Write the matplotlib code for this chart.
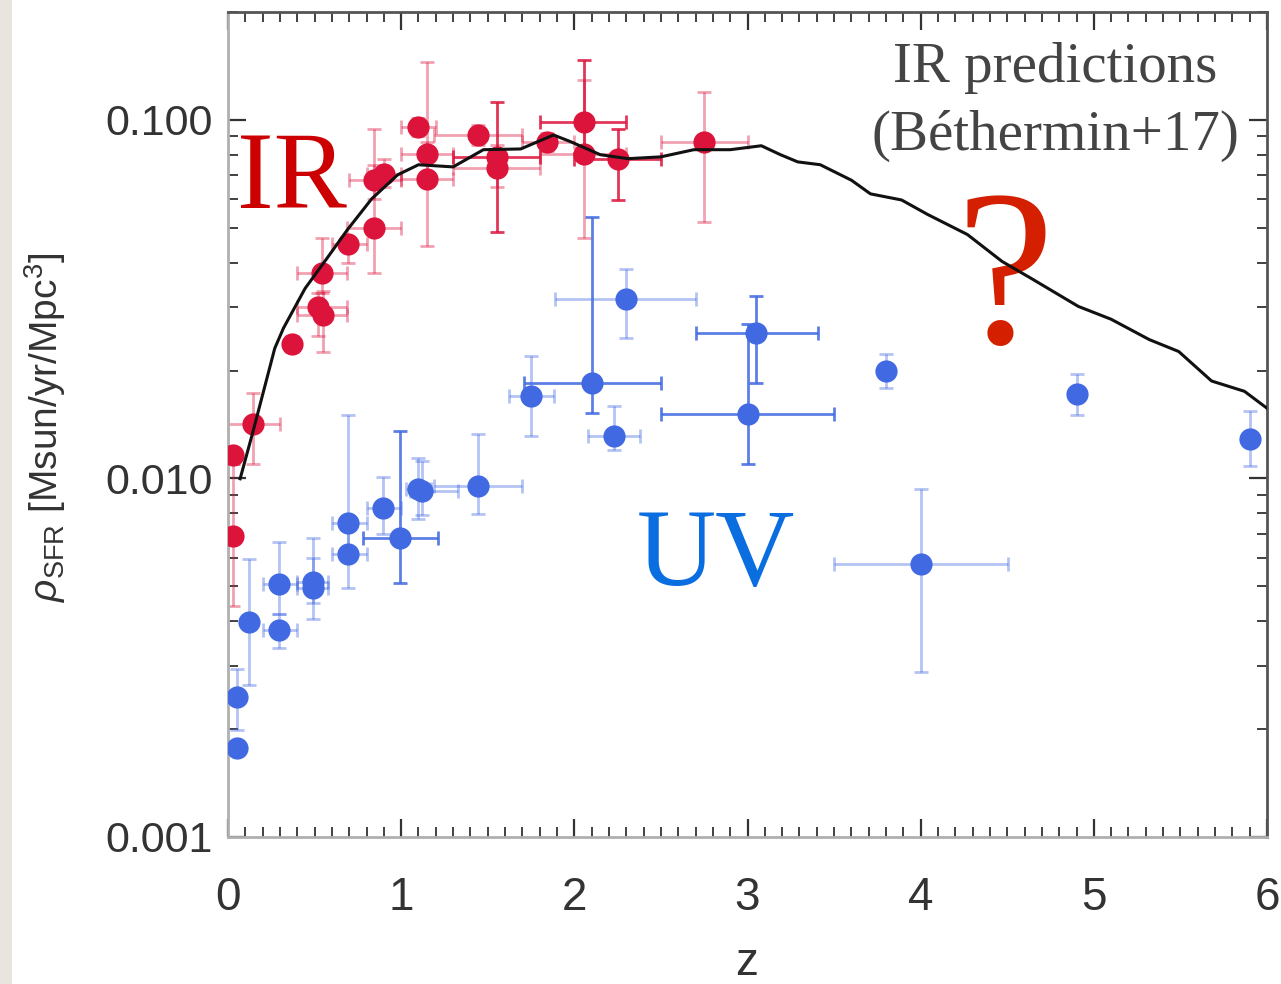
import matplotlib
matplotlib.use("Agg")
import matplotlib.pyplot as plt
from matplotlib.patches import Rectangle
from matplotlib.ticker import FixedLocator, MultipleLocator, FuncFormatter, LogLocator, NullFormatter
import numpy as np

# IR measurements: redshift, SFR density, lower/upper bound, z range
ir_z = [0.03, 0.03, 0.145, 0.37, 0.52, 0.55, 0.545, 0.695, 0.845, 0.845, 0.90,
        1.10, 1.15, 1.15, 1.446, 1.556, 1.556, 1.845, 2.053, 2.053, 2.25, 2.747]
ir_rho = [0.0116, 0.0069, 0.0142, 0.0237, 0.0300, 0.0285, 0.0373, 0.0452, 0.0498, 0.0681, 0.0708,
          0.0957, 0.0804, 0.0686, 0.0908, 0.0790, 0.0735, 0.0869, 0.0987, 0.0804, 0.0780, 0.0869]
ir_lo = [0.0110, 0.0044, 0.0110, 0.0225, 0.0250, 0.0226, 0.0330, 0.0398, 0.0373, 0.0600, 0.0650,
         0.0900, 0.0700, 0.0444, 0.0850, 0.0488, 0.0650, 0.0820, 0.0800, 0.0467, 0.0598, 0.0520]
ir_hi = [0.0122, 0.0110, 0.0173, 0.0250, 0.0330, 0.0333, 0.0467, 0.0470, 0.0944, 0.0750, 0.0780,
         0.1010, 0.0870, 0.1450, 0.0970, 0.1120, 0.0850, 0.0920, 0.1470, 0.1290, 0.0944, 0.1200]
ir_zlo = [0.03, 0.03, 0.0, 0.34, 0.40, 0.40, 0.40, 0.60, 0.69, 0.70, 0.80,
          1.00, 1.00, 1.00, 1.19, 1.30, 1.30, 1.70, 1.80, 1.80, 2.00, 2.50]
ir_zhi = [0.03, 0.03, 0.30, 0.40, 0.69, 0.69, 0.69, 0.80, 1.00, 1.00, 1.00,
          1.20, 1.30, 1.30, 1.70, 1.80, 1.80, 2.00, 2.30, 2.30, 2.50, 3.00]

# UV measurements
uv_z = [0.05, 0.05, 0.12, 0.295, 0.295, 0.49, 0.49, 0.695, 0.695, 0.896, 0.995, 1.10,
        1.12, 1.446, 1.747, 2.10, 2.30, 2.227, 3.05, 3.00, 3.80, 4.00, 4.905, 5.90]
uv_rho = [0.00177, 0.00245, 0.00397, 0.00509, 0.00377, 0.00496, 0.00515, 0.00752, 0.00616, 0.00828,
          0.00684, 0.00935, 0.00923, 0.00953, 0.01694, 0.01844, 0.0316, 0.01312, 0.0254, 0.0151,
          0.0199, 0.00578, 0.01718, 0.0129]
uv_lo = [0.00170, 0.00199, 0.00265, 0.00420, 0.00336, 0.00406, 0.00450, 0.00620, 0.00495, 0.00702,
         0.00512, 0.00770, 0.00790, 0.00796, 0.0131, 0.0152, 0.0246, 0.0120, 0.0185, 0.01096,
         0.0179, 0.00288, 0.01503, 0.01084]
uv_hi = [0.00185, 0.00295, 0.00597, 0.00663, 0.00420, 0.00684, 0.00600, 0.01503, 0.00720, 0.01010,
         0.01355, 0.01140, 0.01120, 0.01330, 0.0219, 0.0537, 0.0383, 0.0159, 0.0322, 0.0269,
         0.0222, 0.00935, 0.01954, 0.0154]
uv_zlo = [0.05, 0.05, 0.10, 0.20, 0.20, 0.40, 0.40, 0.60, 0.60, 0.80, 0.78, 1.03,
          1.05, 1.19, 1.62, 1.71, 1.89, 2.08, 2.70, 2.50, 3.80, 3.50, 4.905, 5.90]
uv_zhi = [0.05, 0.05, 0.14, 0.40, 0.40, 0.58, 0.58, 0.80, 0.80, 1.00, 1.21, 1.17,
          1.33, 1.70, 1.88, 2.50, 2.70, 2.38, 3.41, 3.50, 3.80, 4.505, 4.905, 5.90]

# model curve (Bethermin+17)
model_z = [0.07, 0.145, 0.27, 0.32, 0.445, 0.57, 0.69, 0.83, 0.98, 1.10, 1.30, 1.475, 1.69,
           1.88, 1.98, 2.15, 2.31, 2.50, 2.69, 2.90, 3.08, 3.19, 3.29, 3.42, 3.60, 3.71, 3.89,
           4.04, 4.27, 4.47, 4.64, 4.91, 5.10, 5.32, 5.49, 5.68, 5.87, 6.00]
model_rho = [0.00998, 0.01355, 0.02307, 0.02624, 0.03388, 0.04102, 0.04943, 0.06026, 0.07031,
             0.07499, 0.07396, 0.08260, 0.08299, 0.09078, 0.08690, 0.07998, 0.07798, 0.07889,
             0.0826, 0.0826, 0.08472, 0.0800, 0.07638, 0.0750, 0.0679, 0.0622, 0.0598, 0.0545,
             0.0479, 0.0403, 0.0361, 0.0302, 0.0278, 0.0244, 0.0226, 0.0187, 0.0175, 0.0157]

plt.rcParams['font.family'] = ['Liberation Sans', 'DejaVu Sans']
plt.rcParams['mathtext.fontset'] = 'custom'
plt.rcParams['mathtext.rm'] = 'Liberation Sans'
plt.rcParams['mathtext.it'] = 'Liberation Sans:italic'

fig = plt.figure(figsize=(12.81, 9.84), dpi=100)
fig.add_artist(Rectangle((0, 0), 12 / 1281, 1, transform=fig.transFigure,
                         facecolor='#e8e5de', edgecolor='none'))
ax = fig.add_axes([228 / 1281, 147 / 984, 1039 / 1281, 825 / 984])

red = '#dc143c'
blue = '#4169e1'
ir_bold = [15, 18, 20]
uv_bold = [10, 15, 18, 19]


def draw(zs, rho, lo, hi, zlo, zhi, color, bold):
    for i in range(len(zs)):
        yerr = [[rho[i] - lo[i]], [hi[i] - rho[i]]]
        xerr = [[zs[i] - zlo[i]], [zhi[i] - zs[i]]]
        a = 0.85 if i in bold else 0.4
        ax.errorbar([zs[i]], [rho[i]], yerr=yerr, xerr=xerr, fmt='none', ecolor=color,
                    alpha=a, elinewidth=2, capsize=5, capthick=2, zorder=2)
    ax.plot(zs, rho, 'o', color=color, ms=16, mec='none', zorder=3)


draw(ir_z, ir_rho, ir_lo, ir_hi, ir_zlo, ir_zhi, red, ir_bold)
draw(uv_z, uv_rho, uv_lo, uv_hi, uv_zlo, uv_zhi, blue, uv_bold)
ax.plot(model_z, model_rho, '-', color='#111111', lw=2.2, zorder=4)

ax.set_yscale('log')
ax.set_xlim(0, 6)
ax.set_ylim(0.001, 0.2)
ax.xaxis.set_major_locator(MultipleLocator(1))
ax.xaxis.set_minor_locator(MultipleLocator(0.1))
ax.yaxis.set_major_locator(FixedLocator([0.001, 0.01, 0.1]))
ax.yaxis.set_minor_locator(LogLocator(base=10, subs=np.arange(2, 10)))
ax.yaxis.set_minor_formatter(NullFormatter())
ax.yaxis.set_major_formatter(FuncFormatter(lambda v, p: '%.3f' % v))
ax.tick_params(which='both', direction='in', top=True, right=True, colors='#333333')
ax.tick_params(which='major', length=13, width=1.6)
ax.tick_params(which='minor', length=7, width=1.3)
ax.tick_params(axis='x', labelsize=33, pad=28)
ax.tick_params(axis='y', labelsize=31, pad=11)
for s in ['left', 'bottom']:
    ax.spines[s].set_color('#b0b0b0')
for s in ['right', 'top']:
    ax.spines[s].set_color('#555555')
for s in ax.spines.values():
    s.set_linewidth(2)

fig.text(45 / 1281, 1 - 427 / 984, r'$\rho_{\rm SFR}$ [Msun/yr/Mpc$^3$]', rotation=90,
         ha='center', va='center', fontsize=28, color='#333333')
fig.text(747 / 1281, 1 - 963 / 984, 'z', ha='center', va='center', fontsize=33, color='#333333')

serif = ['Liberation Serif', 'DejaVu Serif']
ax.text(0.009, 0.762, 'IR', transform=ax.transAxes, fontsize=79, color='#cc0000',
        family=serif, ha='left', va='baseline')
ax.text(0.393, 0.305, 'UV', transform=ax.transAxes, fontsize=79, color='#0a6ee0',
        family=serif, ha='left', va='baseline')
ax.text(0.796, (837 - 82) / 825, 'IR predictions', transform=ax.transAxes, fontsize=41,
        color='#444444', family=serif, ha='center', va='baseline')
ax.text(0.796, (837 - 150) / 825, '(Béthermin+17)', transform=ax.transAxes, fontsize=41,
        color='#444444', family=serif, ha='center', va='baseline')
ax.text((1005 - 228) / 1039, (837 - 343) / 825, '?', transform=ax.transAxes, fontsize=160,
        color='#d42000', family=serif, ha='center', va='baseline')

fig.savefig('out.png', dpi=100)
